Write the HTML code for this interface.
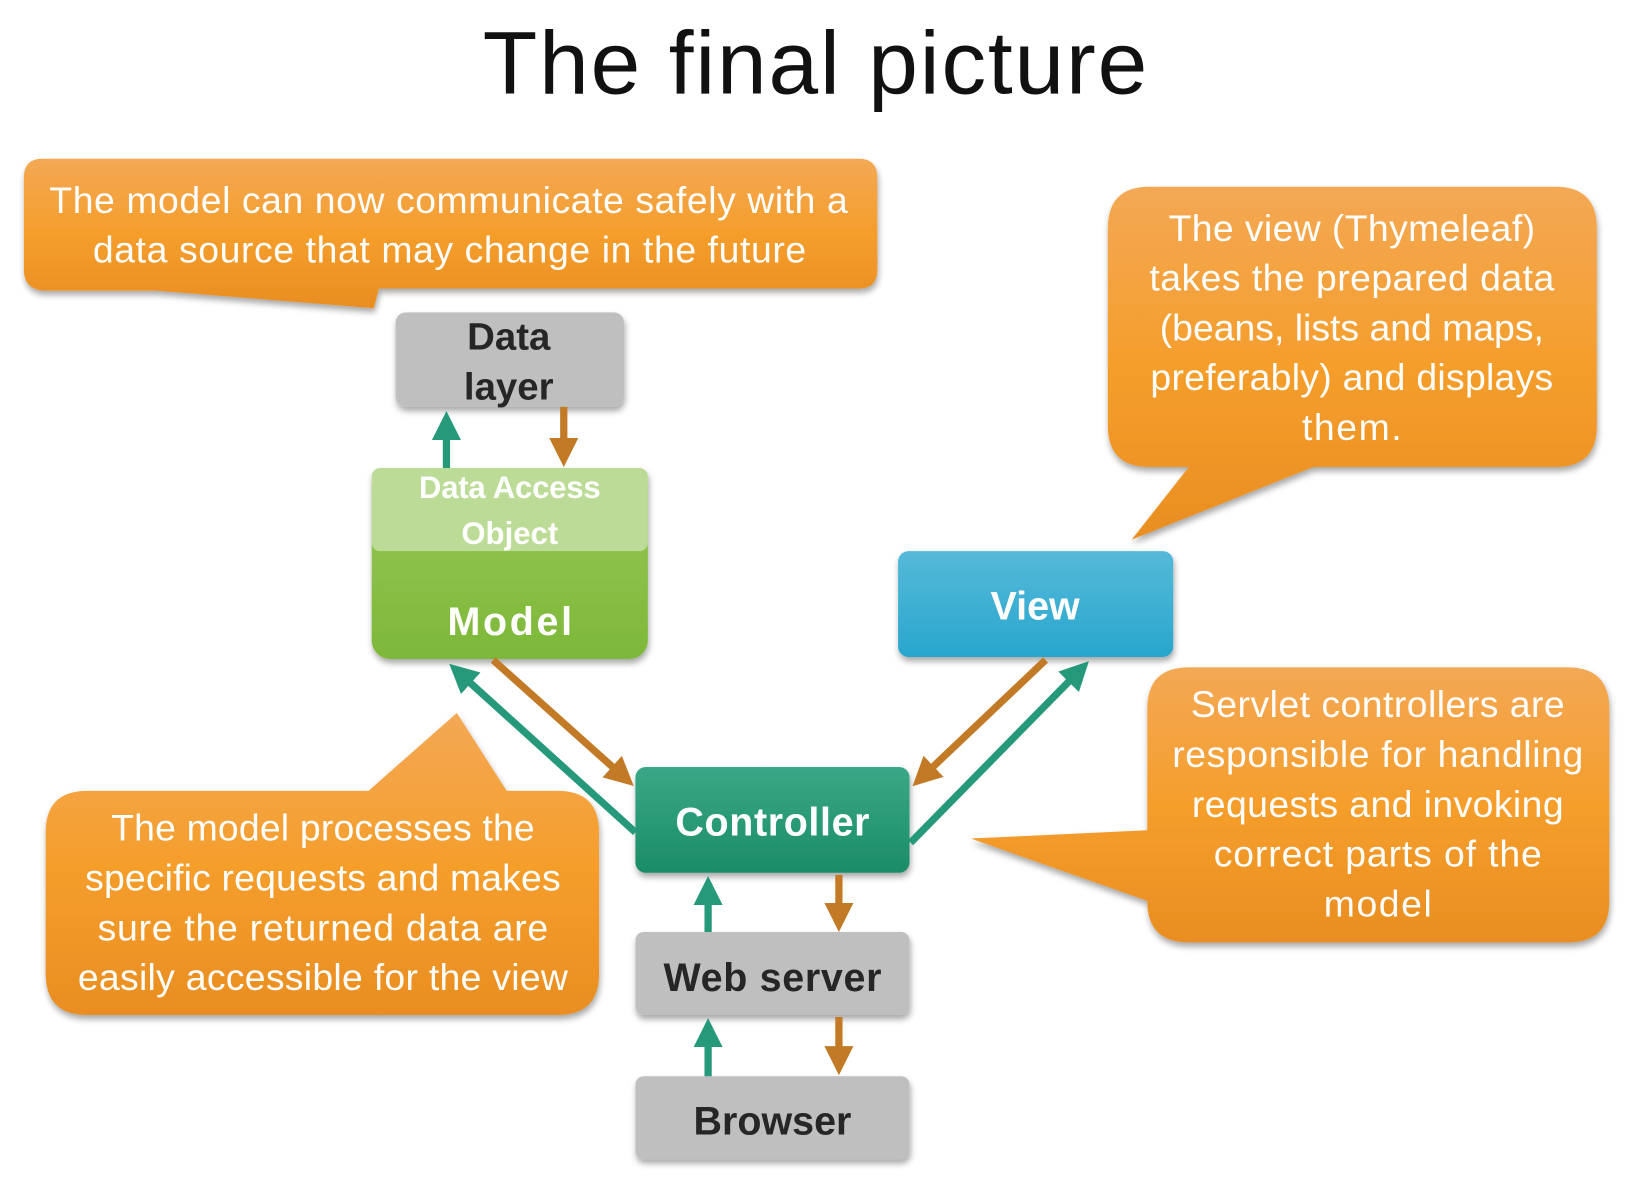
<!DOCTYPE html>
<html><head><meta charset="utf-8"><style>html,body{margin:0;padding:0;background:#fff}svg{display:block}</style></head><body>
<svg width="1628" height="1180" viewBox="0 0 1568 1137" preserveAspectRatio="none" xmlns="http://www.w3.org/2000/svg" font-family="'Liberation Sans Narrow','Liberation Sans',sans-serif">
<defs>
<linearGradient id="or" x1="0" y1="0" x2="0" y2="1"><stop offset="0" stop-color="#f3a854"/><stop offset="0.5" stop-color="#f59e2c"/><stop offset="1" stop-color="#e98e22"/></linearGradient>
<linearGradient id="gr" x1="0" y1="0" x2="0" y2="1"><stop offset="0" stop-color="#98c854"/><stop offset="1" stop-color="#7db83a"/></linearGradient>
<linearGradient id="bl" x1="0" y1="0" x2="0" y2="1"><stop offset="0" stop-color="#55b9d9"/><stop offset="1" stop-color="#28a6cd"/></linearGradient>
<linearGradient id="tl" x1="0" y1="0" x2="0" y2="1"><stop offset="0" stop-color="#3aa886"/><stop offset="1" stop-color="#1b8c68"/></linearGradient>
<filter id="sh" x="-10%" y="-10%" width="120%" height="130%"><feDropShadow dx="1" dy="4" stdDeviation="3" flood-color="#000" flood-opacity="0.35"/></filter>
<marker id="ag" markerWidth="4" markerHeight="4" refX="2" refY="2" orient="auto" markerUnits="strokeWidth"><path d="M0,0 L4,2 L0,4 Z" fill="#26997a"/></marker>
<marker id="ab" markerWidth="4" markerHeight="4" refX="2" refY="2" orient="auto" markerUnits="strokeWidth"><path d="M0,0 L4,2 L0,4 Z" fill="#c27a26"/></marker>
</defs>
<text x="785" y="90" font-size="86" text-anchor="middle" fill="#111" textLength="640" font-family="'Liberation Sans',sans-serif">The final picture</text>

<!-- callouts -->
<g filter="url(#sh)" fill="url(#or)">
<path d="M41,153 H827 Q845,153 845,171 V260 Q845,278 827,278 H365 L360,297 L150,280 H41 Q23,278 23,260 V171 Q23,153 41,153 Z"/>
<path d="M1107,180 H1498 Q1538,180 1538,220 V410 Q1538,450 1498,450 H1265 L1090,520 L1145,450 H1107 Q1067,450 1067,410 V220 Q1067,180 1107,180 Z"/>
<path d="M84,762 H355 L440,687 L488,762 H537 Q577,762 577,802 V938 Q577,978 537,978 H84 Q44,978 44,938 V802 Q44,762 84,762 Z"/>
<path d="M1145,643 H1510 Q1550,643 1550,683 V868 Q1550,908 1510,908 H1145 Q1105,908 1105,868 L935,808 L1105,800 V683 Q1105,643 1145,643 Z"/>
</g>
<g fill="#fff" font-size="36" text-anchor="middle">
<text x="432" y="205" textLength="769">The model can now communicate safely with a</text>
<text x="433" y="253" textLength="687">data source that may change in the future</text>
<text x="1302" y="232" textLength="353">The view (Thymeleaf)</text>
<text x="1302" y="280" textLength="390">takes the prepared data</text>
<text x="1302" y="328" textLength="370">(beans, lists and maps,</text>
<text x="1302" y="376" textLength="388">preferably) and displays</text>
<text x="1302" y="424" textLength="96">them.</text>
<text x="311" y="810" textLength="408">The model processes the</text>
<text x="311" y="858" textLength="458">specific requests and makes</text>
<text x="311" y="906" textLength="434">sure the returned data are</text>
<text x="311" y="954" textLength="472">easily accessible for the view</text>
<text x="1327" y="691" textLength="360">Servlet controllers are</text>
<text x="1327" y="739" textLength="396">responsible for handling</text>
<text x="1327" y="787" textLength="358">requests and invoking</text>
<text x="1327" y="835" textLength="316">correct parts of the</text>
<text x="1327" y="883" textLength="104">model</text>
</g>

<!-- boxes -->
<g filter="url(#sh)">
<rect x="381" y="301" width="220" height="91" rx="10" fill="#bfbfbf"/>
<rect x="358" y="451" width="266" height="184" rx="18" fill="url(#gr)"/>
<rect x="358" y="451" width="266" height="80" rx="8" fill="#bcdb96"/>
<rect x="865" y="531" width="265" height="102" rx="10" fill="url(#bl)"/>
<rect x="612" y="739" width="264" height="102" rx="10" fill="url(#tl)"/>
<rect x="612" y="898" width="264" height="80" rx="8" fill="#bfbfbf"/>
<rect x="612" y="1037" width="264" height="80" rx="8" fill="#bfbfbf"/>
</g>
<g font-weight="bold" text-anchor="middle">
<text x="490" y="337" font-size="37" fill="#262626">Data</text>
<text x="490" y="385" font-size="37" fill="#262626">layer</text>
<text x="491" y="480" font-size="30" fill="#fff" textLength="175">Data Access</text>
<text x="491" y="524" font-size="30" fill="#fff">Object</text>
<text x="491" y="612" font-size="38" fill="#fff" textLength="120">Model</text>
<text x="997" y="597" font-size="38" fill="#fff">View</text>
<text x="744" y="805" font-size="38" fill="#fff" textLength="187">Controller</text>
<text x="744" y="955" font-size="38" fill="#262626" textLength="210">Web server</text>
<text x="744" y="1093" font-size="38" fill="#262626" textLength="152">Browser</text>
</g>

<!-- arrows -->
<g stroke-width="7" fill="none">
<line x1="430" y1="451" x2="430" y2="410" stroke="#26997a" marker-end="url(#ag)"/>
<line x1="543" y1="392" x2="543" y2="436" stroke="#c27a26" marker-end="url(#ab)"/>
<line x1="612" y1="802" x2="443" y2="649" stroke="#26997a" marker-end="url(#ag)"/>
<line x1="475" y1="636" x2="600" y2="748" stroke="#c27a26" marker-end="url(#ab)"/>
<line x1="1007" y1="636" x2="889" y2="748" stroke="#c27a26" marker-end="url(#ab)"/>
<line x1="877" y1="812" x2="1039" y2="647" stroke="#26997a" marker-end="url(#ag)"/>
<line x1="682" y1="898" x2="682" y2="858" stroke="#26997a" marker-end="url(#ag)"/>
<line x1="808" y1="843" x2="808" y2="884" stroke="#c27a26" marker-end="url(#ab)"/>
<line x1="682" y1="1037" x2="682" y2="995" stroke="#26997a" marker-end="url(#ag)"/>
<line x1="808" y1="980" x2="808" y2="1022" stroke="#c27a26" marker-end="url(#ab)"/>
</g>
</svg>
</body></html>
